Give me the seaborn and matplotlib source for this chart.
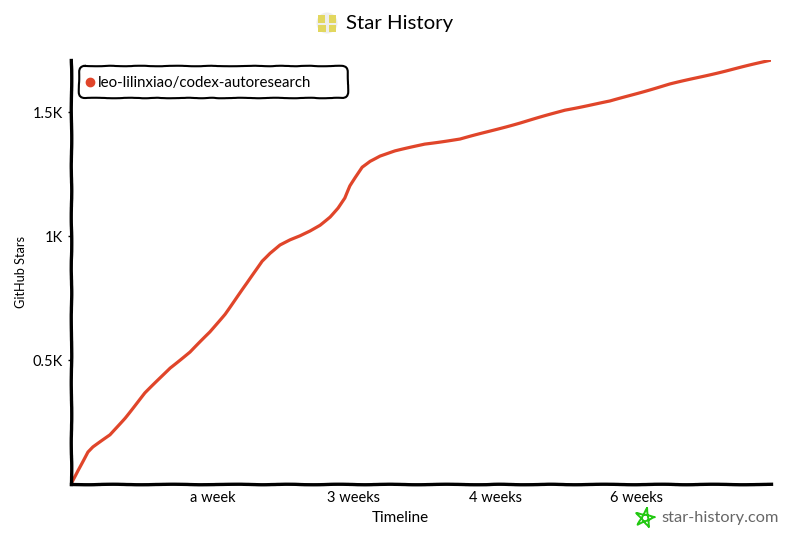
"""Star history chart, hand drawn look."""
import matplotlib
matplotlib.use("Agg")
import matplotlib.pyplot as plt
from matplotlib.lines import Line2D
from matplotlib.patches import Circle, FancyBboxPatch, Rectangle
import numpy as np
import pandas as pd
import seaborn as sns

days = [0, 0.5, 1.2, 1.55, 2.76, 3.82, 5.23, 7.0, 8.41, 9.82, 10.88, 12.44, 13.5,
        14.06, 14.77, 15.48, 16.18, 16.89, 17.6, 18.3, 18.87, 19.36, 19.72, 20.07,
        20.57, 21.13, 21.84, 22.9, 25.0, 27.49, 29.6,
        31.73, 34.91, 38.09, 42.33, 46.22, 49.47]
stars = [0, 56, 129, 149, 198, 266, 367, 468, 532, 613, 685, 810, 899,
         931, 964, 984, 1000, 1020, 1044, 1077, 1113, 1153, 1202, 1234,
         1278, 1302, 1323, 1343, 1371, 1391, 1423,
         1456, 1508, 1544, 1613, 1665, 1710]
y_ticks = [500, 1000, 1500]
y_labels = ["0.5K", "1K", "1.5K"]
x_ticks = [10, 20, 30, 40]
x_labels = ["a week", "3 weeks", "4 weeks", "6 weeks"]
repo = "leo-lilinxiao/codex-autoresearch"

RED = "#e0452a"
sns.set_theme(style="white")
plt.rcParams["font.family"] = ["Lato", "DejaVu Sans"]

df = pd.DataFrame({"days": days, "stars": stars})

fig = plt.figure(figsize=(8, 5.33), dpi=100)
ax = fig.add_axes([71 / 800, 49 / 533, 700 / 800, 424 / 533])
sns.lineplot(data=df, x="days", y="stars", color=RED, lw=2.3, ax=ax, label=repo,
             solid_capstyle="round")
ax.lines[0].set_sketch_params(0.2, 70, 1)
ax.set_xlim(0, 49.47)
ax.set_ylim(0, 1710)

ax.set_xticks(x_ticks, x_labels)
ax.set_yticks(y_ticks, y_labels)
ax.tick_params(axis="x", length=0, pad=5, labelsize=10.5, colors="black")
ax.tick_params(axis="y", left=True, length=2, width=1, pad=4, labelsize=10.5, colors="black")
ax.set_xlabel("Timeline", fontsize=11, color="black")
ax.xaxis.set_label_coords(329 / 700, -27 / 424)
ax.set_ylabel("GitHub Stars", fontsize=9.2, color="black")
ax.yaxis.set_label_coords(-44 / 700, 212 / 424)

ax.spines["top"].set_visible(False)
ax.spines["right"].set_visible(False)
for side in ["left", "bottom"]:
    ax.spines[side].set_linewidth(2.4)
    ax.spines[side].set_color("black")
    ax.spines[side].set_sketch_params(0.25, 70, 3)

handle = Line2D([], [], ls="none", marker="o", ms=6, color=RED)
leg = ax.legend([handle], [repo], loc="upper left", bbox_to_anchor=(7 / 700, 1 - 6 / 424),
                borderaxespad=0, fontsize=10.85, frameon=False, handlelength=0.3,
                handletextpad=0.4, borderpad=0.65, labelcolor="black")

# overlay in pixel coordinates for the legend box, title, logo and watermark
top = fig.add_axes([0, 0, 1, 1], facecolor="none")
top.set_xlim(0, 800)
top.set_ylim(533, 0)
top.axis("off")

box = FancyBboxPatch((84, 71), 259, 22, boxstyle="round,pad=5,rounding_size=6",
                     fc="none", ec="black", lw=1.5)
box.set_sketch_params(0.25, 50, 5)
top.add_patch(box)

top.text(346, 24, "Star History", fontsize=14.7, color="black", va="center", ha="left")
top.add_patch(Circle((327, 23), 10.5, color="#eeeeee", lw=0))
for x0, y0, w, h in [(318, 15, 7, 8), (329, 15, 7, 8), (318, 25, 8, 7), (329, 25, 7, 7)]:
    top.add_patch(Rectangle((x0, y0), w, h, color="#e2d75f", lw=0))

angles = np.deg2rad(-90 + 144 * np.arange(6) + 12)
star_line = top.plot(645 + 10 * np.cos(angles), 518 + 10 * np.sin(angles), color="#22c811", lw=1.4)[0]
star_line.set_sketch_params(0.2, 15, 2)
top.text(661, 518, "star-history.com", fontsize=11.8, color="#666666", va="center", ha="left")

fig.savefig("out.png", dpi=100)
